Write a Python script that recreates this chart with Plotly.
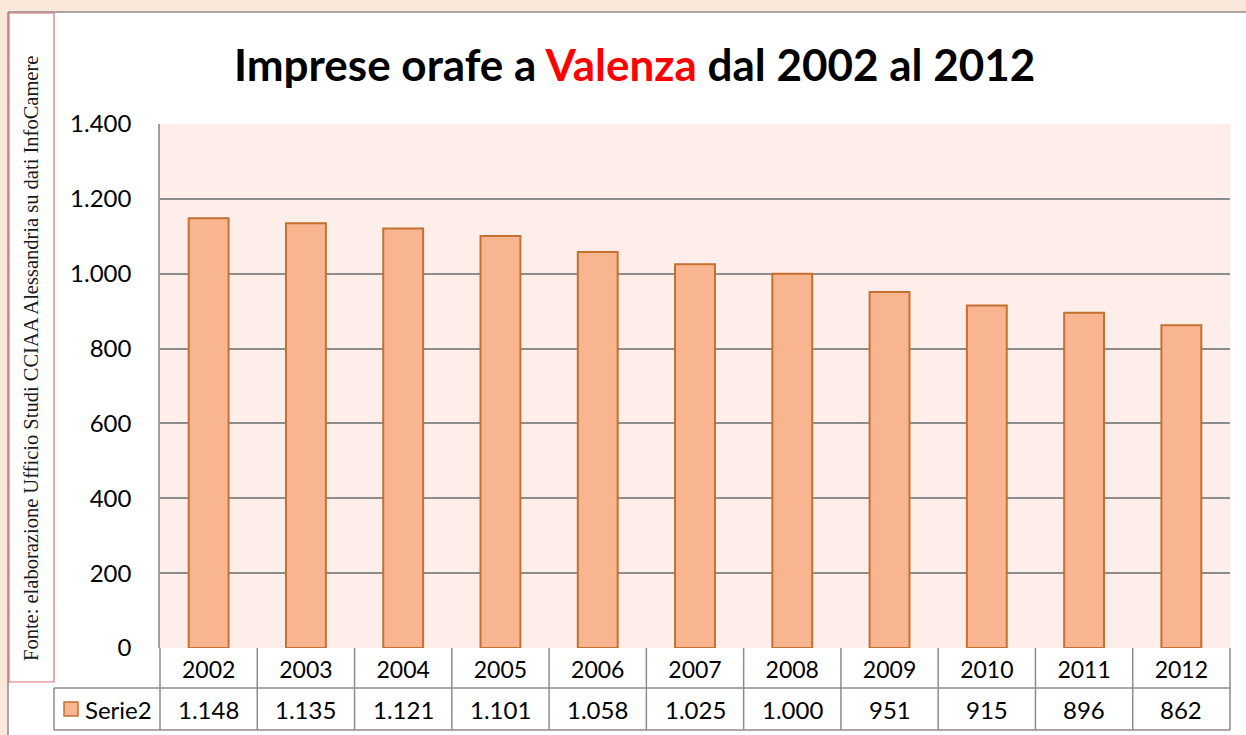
import plotly.graph_objects as go

years = ["2002", "2003", "2004", "2005", "2006", "2007", "2008", "2009", "2010", "2011", "2012"]
imprese = [1148, 1135, 1121, 1101, 1058, 1025, 1000, 951, 915, 896, 862]
series_name = "Serie2"
y_ticks = [0, 200, 400, 600, 800, 1000, 1200, 1400]

W, H = 1246, 735
PL, PR, PT, PB = 160, 1230, 124, 648  # plot area in px
ROW1, ROW2 = 688, 730

def px(x):
    return x / W

def py(y):
    return 1 - y / H

def fmt(v):
    return f"{v:,}".replace(",", ".")

GRID = "#8c8c8c"
BAR_FILL = "#F9B590"
BAR_LINE = "#C4702F"
FONT = "Lato"

fig = go.Figure()
fig.add_trace(go.Bar(
    x=years, y=imprese, name=series_name,
    marker=dict(color=BAR_FILL, line=dict(color=BAR_LINE, width=2)),
    width=0.41, showlegend=False, hoverinfo="skip",
))

shapes = []
shapes.append(dict(type="rect", xref="paper", yref="paper", x0=0, x1=1, y0=py(12), y1=1,
                   fillcolor="#FCE8DA", line=dict(width=0), layer="below"))
shapes.append(dict(type="rect", xref="paper", yref="paper", x0=0, x1=px(8), y0=0, y1=1,
                   fillcolor="#FCE8DA", line=dict(width=0), layer="below"))
shapes.append(dict(type="line", xref="paper", yref="paper", x0=px(8), x1=1, y0=py(12), y1=py(12),
                   line=dict(color=GRID, width=1.5)))
shapes.append(dict(type="line", xref="paper", yref="paper", x0=px(8), x1=px(8), y0=0, y1=py(12),
                   line=dict(color=GRID, width=1.5)))
shapes.append(dict(type="rect", xref="paper", yref="paper", x0=px(9), x1=px(54), y0=py(682), y1=py(13),
                   line=dict(color="#E07070", width=1.2), fillcolor="rgba(0,0,0,0)"))

n = len(years)
cw = (PR - PL) / n
tl = dict(color=GRID, width=1.5)
shapes.append(dict(type="line", xref="paper", yref="paper", x0=px(PL), x1=px(PR), y0=py(ROW1), y1=py(ROW1), line=tl))
shapes.append(dict(type="line", xref="paper", yref="paper", x0=px(54), x1=px(PL), y0=py(ROW1), y1=py(ROW1), line=tl))
shapes.append(dict(type="line", xref="paper", yref="paper", x0=px(54), x1=px(PR), y0=py(ROW2), y1=py(ROW2), line=tl))
shapes.append(dict(type="line", xref="paper", yref="paper", x0=px(54), x1=px(54), y0=py(ROW2), y1=py(ROW1), line=tl))
for i in range(n + 1):
    xx = PL + i * cw
    shapes.append(dict(type="line", xref="paper", yref="paper", x0=px(xx), x1=px(xx), y0=py(ROW2), y1=py(PB), line=tl))
shapes.append(dict(type="rect", xref="paper", yref="paper", x0=px(64), x1=px(78), y0=py(716), y1=py(702),
                   fillcolor=BAR_FILL, line=dict(color=BAR_LINE, width=1.5)))

annotations = []
annotations.append(dict(
    text="<b>Imprese orafe a <span style='color:#FF0000'>Valenza</span> dal 2002 al 2012</b>",
    xref="paper", yref="paper", x=px(634), y=py(64), showarrow=False,
    font=dict(family=FONT, size=44, color="#000000"), xanchor="center", yanchor="middle"))
annotations.append(dict(
    text="Fonte: elaborazione Ufficio Studi CCIAA Alessandria su dati InfoCamere",
    xref="paper", yref="paper", x=px(31), y=py(359), showarrow=False, textangle=-90,
    font=dict(family="Liberation Serif", size=20.5, color="#1a1a1a"), xanchor="center", yanchor="middle"))
annotations.append(dict(text=series_name, xref="paper", yref="paper", x=px(83), y=py(709),
                        showarrow=False, xanchor="left", yanchor="middle",
                        font=dict(family=FONT, size=24, color="#000000")))
for i, v in enumerate(imprese):
    annotations.append(dict(text=fmt(v), xref="paper", yref="paper", x=px(PL + (i + 0.5) * cw), y=py(709),
                            showarrow=False, xanchor="center", yanchor="middle",
                            font=dict(family=FONT, size=24, color="#000000")))

fig.update_layout(
    width=W, height=H,
    margin=dict(l=0, r=0, t=0, b=0, pad=0),
    autosize=False,
    paper_bgcolor="#FFFFFF",
    plot_bgcolor="#FDEEEA",
    shapes=shapes,
    annotations=annotations,
    hovermode=False,
    xaxis=dict(domain=[px(PL), px(PR)], type="category", showgrid=False, showline=False,
               automargin=False, fixedrange=True,
               ticks="", tickfont=dict(family=FONT, size=23, color="#000000"), ticklabelstandoff=6),
    yaxis=dict(domain=[py(PB), py(PT)], range=[0, 1400], tickvals=y_ticks,
               ticktext=[fmt(t) for t in y_ticks], automargin=False, fixedrange=True,
               showgrid=True, gridcolor=GRID, gridwidth=1.5, zeroline=False,
               showline=True, linecolor="#a0a0a0", linewidth=1.5,
               ticks="", ticklabelstandoff=22,
               tickfont=dict(family=FONT, size=24, color="#000000")),
    bargap=0.59,
)

fig.write_html("out.html", config={"displayModeBar": False},
               post_script="document.body.style.margin='0';document.body.style.padding='0';")
